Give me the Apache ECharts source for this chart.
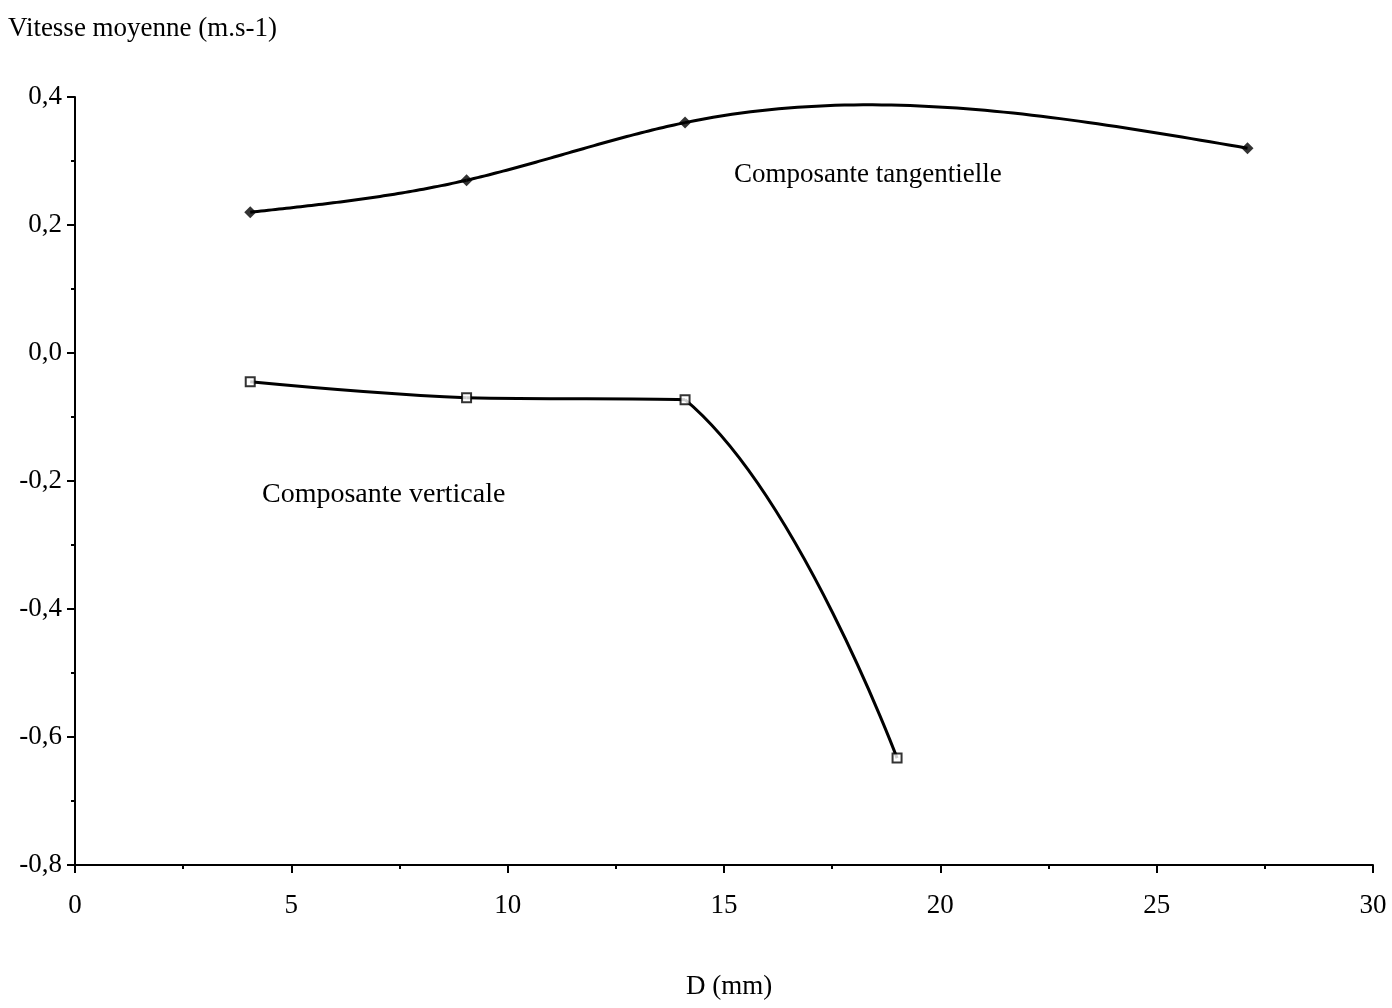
<!DOCTYPE html>
<html>
<head>
<meta charset="utf-8">
<script src="https://cdn.jsdelivr.net/npm/echarts@6/dist/echarts.min.js"></script>
<style>
  html, body { margin: 0; padding: 0; background: #fff; }
  #chart { width: 1392px; height: 1008px; }
</style>
</head>
<body>
<div id="chart"></div>
<script>
// D (mm) et vitesses
var tangD = [4.05, 9.05, 14.1, 27.1];
var tangV = [0.22, 0.27, 0.36, 0.32];
var vertD = [4.05, 9.05, 14.1, 19];
var vertV = [-0.045, -0.07, -0.073, -0.633];
var xTicks = [0, 5, 10, 15, 20, 25, 30];
var yTicks = [-0.8, -0.6, -0.4, -0.2, 0.0, 0.2, 0.4];

var FONT = '"Liberation Serif", "DejaVu Serif", serif';

function pairs(xs, ys) {
  var out = [];
  for (var i = 0; i < xs.length; i++) out.push([xs[i], ys[i]]);
  return out;
}

// spline cubique naturelle (derivees secondes)
function splineM(xs, ys) {
  var n = xs.length, h = [], M = [];
  for (var i = 0; i < n - 1; i++) h.push(xs[i + 1] - xs[i]);
  var a = [], b = [], c = [], d = [];
  for (var i = 1; i < n - 1; i++) {
    a.push(h[i - 1]);
    b.push(2 * (h[i - 1] + h[i]));
    c.push(h[i]);
    d.push(6 * ((ys[i + 1] - ys[i]) / h[i] - (ys[i] - ys[i - 1]) / h[i - 1]));
  }
  var m = b.length;
  for (var i = 1; i < m; i++) {
    var w = a[i] / b[i - 1];
    b[i] -= w * c[i - 1];
    d[i] -= w * d[i - 1];
  }
  var inner = new Array(m);
  for (var i = m - 1; i >= 0; i--) {
    inner[i] = (d[i] - (i < m - 1 ? c[i] * inner[i + 1] : 0)) / b[i];
  }
  M.push(0);
  for (var i = 0; i < m; i++) M.push(inner[i]);
  M.push(0);
  return M;
}
var tangM = splineM(tangD, tangV);

function splineAt(xs, ys, M, i, x) {
  var h = xs[i + 1] - xs[i];
  var u = xs[i + 1] - x, t = x - xs[i];
  return M[i] * u * u * u / (6 * h) + M[i + 1] * t * t * t / (6 * h)
    + (ys[i] / h - M[i] * h / 6) * u + (ys[i + 1] / h - M[i + 1] * h / 6) * t;
}

function clamp(v, a, b) {
  return Math.max(Math.min(a, b), Math.min(Math.max(a, b), v));
}

// bezier lisse, points de controle bornes par segment (coude possible)
function bezierSeg(pts, i, s) {
  var n = pts.length, p0 = pts[i], p1 = pts[i + 1];
  var c0 = p0, c1 = p1;
  if (i > 0) {
    var pp = pts[i - 1];
    var d0 = Math.hypot(p0[0] - pp[0], p0[1] - pp[1]);
    var d1 = Math.hypot(p1[0] - p0[0], p1[1] - p0[1]);
    var r = d1 / (d0 + d1);
    c0 = [clamp(p0[0] + (p1[0] - pp[0]) * s * r, p0[0], p1[0]),
          clamp(p0[1] + (p1[1] - pp[1]) * s * r, p0[1], p1[1])];
  }
  if (i + 2 < n) {
    var pn = pts[i + 2];
    var e0 = Math.hypot(p1[0] - p0[0], p1[1] - p0[1]);
    var e1 = Math.hypot(pn[0] - p1[0], pn[1] - p1[1]);
    var q = e0 / (e0 + e1);
    c1 = [clamp(p1[0] - (pn[0] - p0[0]) * s * q, p0[0], p1[0]),
          clamp(p1[1] - (pn[1] - p0[1]) * s * q, p0[1], p1[1])];
  }
  return [p0, c0, c1, p1];
}

var chart = echarts.init(document.getElementById('chart'));

var axisCommon = {
  type: 'value',
  axisLine: { onZero: false, lineStyle: { color: '#000', width: 2 } },
  axisTick: { length: 8, lineStyle: { color: '#000', width: 2 } },
  minorTick: { show: true, splitNumber: 2, length: 4, lineStyle: { color: '#000', width: 2 } },
  splitLine: { show: false }
};

var option = {
  backgroundColor: '#fff',
  animation: false,
  grid: { left: 75, right: 19, top: 97, bottom: 143 },
  xAxis: echarts.util.merge({
    min: xTicks[0],
    max: xTicks[xTicks.length - 1],
    interval: 5,
    axisLabel: { color: '#000', fontFamily: FONT, fontSize: 27, margin: 27 }
  }, axisCommon),
  yAxis: echarts.util.merge({
    min: yTicks[0],
    max: yTicks[yTicks.length - 1],
    interval: 0.2,
    axisLabel: {
      color: '#000', fontFamily: FONT, fontSize: 27, margin: 13, padding: [6, 0, 0, 0],
      formatter: function (v) { return v.toFixed(1).replace('.', ','); }
    }
  }, axisCommon),
  graphic: [
    { type: 'text', left: 8, top: 15, style: { text: 'Vitesse moyenne (m.s-1)', font: '27px ' + FONT, fill: '#000' } },
    { type: 'text', left: 686, top: 973, style: { text: 'D (mm)', font: '27px ' + FONT, fill: '#000' } },
    { type: 'text', left: 734, top: 161, style: { text: 'Composante tangentielle', font: '27px ' + FONT, fill: '#000' } },
    { type: 'text', left: 262, top: 481, style: { text: 'Composante verticale', font: '28px ' + FONT, fill: '#000' } }
  ],
  series: [
    {
      name: 'tangentielle',
      type: 'custom',
      data: pairs(tangD, tangV),
      renderItem: function (params, api) {
        var i = params.dataIndex;
        if (i >= tangD.length - 1) return null;
        var pts = [], steps = 60;
        for (var k = 0; k <= steps; k++) {
          var x = tangD[i] + (tangD[i + 1] - tangD[i]) * k / steps;
          pts.push(api.coord([x, splineAt(tangD, tangV, tangM, i, x)]));
        }
        return {
          type: 'polyline',
          shape: { points: pts },
          style: { stroke: '#000', lineWidth: 3, fill: null }
        };
      },
      z: 2
    },
    {
      name: 'verticale',
      type: 'custom',
      data: pairs(vertD, vertV),
      renderItem: function (params, api) {
        var i = params.dataIndex;
        if (i >= vertD.length - 1) return null;
        var px = [];
        for (var k = 0; k < vertD.length; k++) px.push(api.coord([vertD[k], vertV[k]]));
        var b = bezierSeg(px, i, 0.4);
        return {
          type: 'bezierCurve',
          shape: {
            x1: b[0][0], y1: b[0][1],
            cpx1: b[1][0], cpy1: b[1][1],
            cpx2: b[2][0], cpy2: b[2][1],
            x2: b[3][0], y2: b[3][1]
          },
          style: { stroke: '#000', lineWidth: 3, fill: null }
        };
      },
      z: 2
    },
    {
      name: 'tangentielle-pts',
      type: 'scatter',
      data: pairs(tangD, tangV),
      symbol: 'diamond',
      symbolSize: 12,
      itemStyle: { color: '#000' },
      z: 3
    },
    {
      name: 'verticale-pts',
      type: 'scatter',
      data: pairs(vertD, vertV),
      symbol: 'rect',
      symbolSize: 9,
      itemStyle: { color: '#fff', borderColor: '#000', borderWidth: 2 },
      z: 3
    }
  ]
};

chart.setOption(option);
</script>
</body>
</html>
